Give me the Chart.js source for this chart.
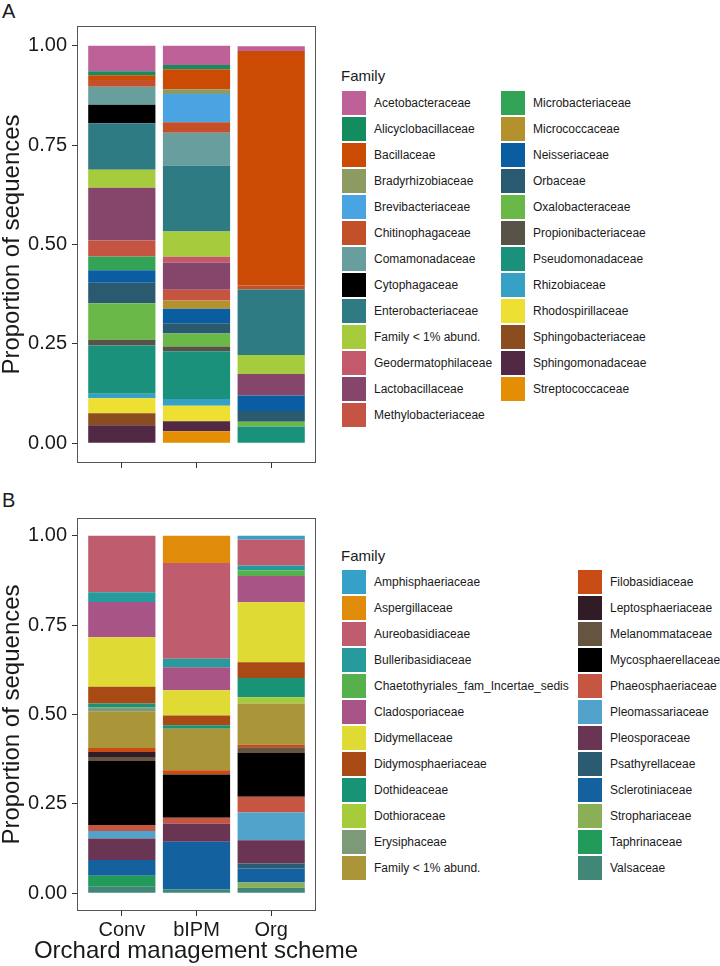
<!DOCTYPE html>
<html>
<head>
<meta charset="utf-8">
<title>Family composition by orchard management scheme</title>
<script src="https://cdn.jsdelivr.net/npm/chart.js@4.4.1/dist/chart.umd.min.js"></script>
<style>
  body { margin: 0; background: #fff; font-family: 'Liberation Sans', Arial, sans-serif; color: #1a1a1a; }
  #page { position: relative; width: 720px; height: 966px; overflow: hidden; background: #fff; }
  .panel-label { position: absolute; left: 2px; font-size: 20px; line-height: 20px; }
  .chart-wrap { position: absolute; left: 0; }
  .axis-title { position: absolute; left: 0; width: 392px; text-align: center; font-size: 24px; line-height: 24px; white-space: nowrap; }
  .legend-title { position: absolute; left: 341px; font-size: 15px; line-height: 15px; }
  .legend-item { position: absolute; height: 24px; display: flex; align-items: center; font-size: 12px; white-space: nowrap; }
  .legend-key { width: 24px; height: 24px; margin-right: 8px; flex: none; }
</style>
</head>
<body>
<div id="page">
  <div class="panel-label" style="top:1px">A</div>
  <div class="chart-wrap" style="top:0; width:325px; height:480px"><canvas id="grafico-a"></canvas></div>
  <div class="legend-title" style="top:68px">Family</div>
  <div id="legenda-a"></div>

  <div class="panel-label" style="top:490px">B</div>
  <div class="chart-wrap" style="top:480px; width:325px; height:486px"><canvas id="grafico-b"></canvas></div>
  <div class="axis-title" style="top:938px">Orchard management scheme</div>
  <div class="legend-title" style="top:548px">Family</div>
  <div id="legenda-b"></div>
</div>

<script>
const sampleNames = ['Conv', 'bIPM', 'Org'];
const yTickValues = [0, 0.25, 0.5, 0.75, 1];

// Panel A - bacteria
const bacteriaFamilies = [
  'Acetobacteraceae', 'Alicyclobacillaceae', 'Bacillaceae', 'Bradyrhizobiaceae', 'Brevibacteriaceae',
  'Chitinophagaceae', 'Comamonadaceae', 'Cytophagaceae', 'Enterobacteriaceae', 'Family < 1% abund.',
  'Geodermatophilaceae', 'Lactobacillaceae', 'Methylobacteriaceae', 'Microbacteriaceae', 'Micrococcaceae',
  'Neisseriaceae', 'Orbaceae', 'Oxalobacteraceae', 'Propionibacteriaceae', 'Pseudomonadaceae',
  'Rhizobiaceae', 'Rhodospirillaceae', 'Sphingobacteriaceae', 'Sphingomonadaceae', 'Streptococcaceae'
];
const bacteriaConv = [0.064, 0.010, 0.012, 0, 0, 0.017, 0.045, 0.047, 0.117, 0.045, 0, 0.133, 0.040,
  0.035, 0, 0.031, 0.052, 0.092, 0.014, 0.122, 0.011, 0.038, 0.030, 0.045, 0];
const bacteriaBipm = [0.048, 0.011, 0.050, 0.012, 0.071, 0.027, 0.082, 0, 0.166, 0.064, 0.015, 0.068, 0.027,
  0, 0.021, 0.036, 0.026, 0.033, 0.012, 0.120, 0.017, 0.039, 0, 0.025, 0.030];
const bacteriaOrg = [0.012, 0, 0.590, 0, 0, 0.010, 0, 0, 0.165, 0.048, 0, 0.054, 0,
  0, 0, 0.039, 0.027, 0.012, 0, 0.042, 0, 0, 0, 0, 0];
const bacteriaColors = [
  '#BF6199', '#138C60', '#CB4A04', '#8D9A62', '#49A4E1', '#C4502A', '#689E9D', '#000000', '#2E7B84',
  '#A6CB3D', '#C25A6C', '#86466C', '#C65442', '#33A456', '#B3922E', '#0B5DA1', '#295A70', '#6AB848',
  '#585347', '#1A917A', '#36A0C5', '#EEE033', '#8B4C20', '#522944', '#E38E05'
];

// Panel B - fungi
const fungiFamilies = [
  'Amphisphaeriaceae', 'Aspergillaceae', 'Aureobasidiaceae', 'Bulleribasidiaceae',
  'Chaetothyriales_fam_Incertae_sedis', 'Cladosporiaceae', 'Didymellaceae', 'Didymosphaeriaceae',
  'Dothideaceae', 'Dothioraceae', 'Erysiphaceae', 'Family < 1% abund.', 'Filobasidiaceae',
  'Leptosphaeriaceae', 'Melanommataceae', 'Mycosphaerellaceae', 'Phaeosphaeriaceae', 'Pleomassariaceae',
  'Pleosporaceae', 'Psathyrellaceae', 'Sclerotiniaceae', 'Strophariaceae', 'Taphrinaceae', 'Valsaceae'
];
const fungiConv = [0, 0, 0.158, 0.027, 0, 0.099, 0.138, 0.047, 0.011, 0, 0.012, 0.102, 0.011,
  0.014, 0.011, 0.179, 0.017, 0.021, 0.060, 0, 0.044, 0, 0.031, 0.018];
const fungiBipm = [0, 0.076, 0.268, 0.024, 0, 0.064, 0.071, 0.027, 0.010, 0, 0, 0.116, 0.012,
  0, 0, 0.121, 0.017, 0, 0.050, 0, 0.133, 0, 0, 0.011];
const fungiOrg = [0.010, 0, 0.073, 0.013, 0.016, 0.074, 0.168, 0.044, 0.054, 0.017, 0, 0.115, 0.008,
  0, 0.016, 0.122, 0.044, 0.078, 0.065, 0.014, 0.039, 0.015, 0, 0.015];
const fungiColors = [
  '#35A1C8', '#E08C0A', '#BF5D6E', '#269A9C', '#56B04B', '#A85486', '#E0DA35', '#A94914',
  '#189376', '#A6CB3B', '#7D9A78', '#AA9538', '#C94C14', '#301B27', '#655440', '#000000',
  '#C65542', '#52A3CB', '#6A3553', '#2B5B70', '#1461A0', '#8BAF54', '#229A5A', '#418778'
];

const textColor = '#1a1a1a';
const fontFamily = "'Liberation Sans', Arial, sans-serif";
Chart.defaults.font.family = fontFamily;
Chart.defaults.color = textColor;

// moldura do painel (theme_bw)
const panelBorder = {
  id: 'panelBorder',
  afterDraw(chart) {
    const { ctx, chartArea } = chart;
    ctx.save();
    ctx.strokeStyle = '#555';
    ctx.lineWidth = 1;
    ctx.strokeRect(Math.round(chartArea.left) + 0.5, Math.round(chartArea.top) + 0.5,
      Math.round(chartArea.right - chartArea.left) - 1, Math.round(chartArea.bottom - chartArea.top) - 1);
    ctx.restore();
  }
};

function buildDatasets(families, colors, series) {
  // ggplot puts the first family on top, Chart.js stacks from the bottom
  const datasets = families.map((family, i) => ({
    label: family,
    data: series.map((values, j) => ({ x: j + 1, y: values[i] })),
    backgroundColor: colors[i],
    borderWidth: 0,
    barPercentage: 0.9,
    categoryPercentage: 1
  }));
  return datasets.reverse();
}

function buildLegend(containerId, families, colors, top, columns) {
  const container = document.getElementById(containerId);
  let index = 0;
  columns.forEach(col => {
    for (let r = 0; r < col.count; r++) {
      const item = document.createElement('div');
      item.className = 'legend-item';
      item.style.left = col.x + 'px';
      item.style.top = (top + r * 26) + 'px';
      const key = document.createElement('div');
      key.className = 'legend-key';
      key.style.background = colors[index];
      const label = document.createElement('span');
      label.textContent = families[index];
      item.appendChild(key);
      item.appendChild(label);
      container.appendChild(item);
      index++;
    }
  });
}

function drawPanel(canvasId, families, colors, series, opts) {
  const ctx = document.getElementById(canvasId).getContext('2d');
  return new Chart(ctx, {
    type: 'bar',
    data: { datasets: buildDatasets(families, colors, series) },
    options: {
      responsive: true,
      maintainAspectRatio: false,
      animation: false,
      devicePixelRatio: 1,
      layout: { padding: { top: opts.padTop, right: 9, bottom: 0, left: 0 } },
      plugins: { legend: { display: false }, tooltip: { enabled: false } },
      scales: {
        x: {
          type: 'linear',
          min: 0.4,
          max: 3.6,
          stacked: true,
          offset: false,
          afterBuildTicks: scale => { scale.ticks = sampleNames.map((n, i) => ({ value: i + 1 })); },
          afterFit: scale => { scale.height = opts.xHeight; },
          grid: { display: true, offset: false, drawOnChartArea: false, drawTicks: true, tickLength: 5, tickColor: '#333' },
          border: { display: false },
          ticks: {
            display: opts.showX,
            autoSkip: false,
            maxRotation: 0,
            padding: 2,
            color: textColor,
            font: { size: 20 },
            callback: value => sampleNames[Math.round(value) - 1]
          }
        },
        y: {
          min: -0.05,
          max: 1.05,
          stacked: true,
          afterBuildTicks: scale => { scale.ticks = yTickValues.map(v => ({ value: v })); },
          afterFit: scale => { scale.width = 77; },
          grid: { display: true, drawOnChartArea: false, drawTicks: true, tickLength: 5, tickColor: '#333' },
          border: { display: false },
          ticks: {
            padding: 5,
            color: textColor,
            font: { size: 20 },
            callback: value => Number(value).toFixed(2)
          },
          title: {
            display: true,
            text: 'Proportion of sequences',
            color: textColor,
            font: { size: 24, lineHeight: 1 },
            padding: 0
          }
        }
      }
    },
    plugins: [panelBorder]
  });
}

drawPanel('grafico-a', bacteriaFamilies, bacteriaColors, [bacteriaConv, bacteriaBipm, bacteriaOrg],
  { padTop: 26, xHeight: 10, showX: false });
drawPanel('grafico-b', fungiFamilies, fungiColors, [fungiConv, fungiBipm, fungiOrg],
  { padTop: 38, xHeight: 55, showX: true });

buildLegend('legenda-a', bacteriaFamilies, bacteriaColors, 91, [{ x: 342, count: 13 }, { x: 501, count: 12 }]);
buildLegend('legenda-b', fungiFamilies, fungiColors, 570, [{ x: 342, count: 12 }, { x: 578, count: 12 }]);
</script>
</body>
</html>
